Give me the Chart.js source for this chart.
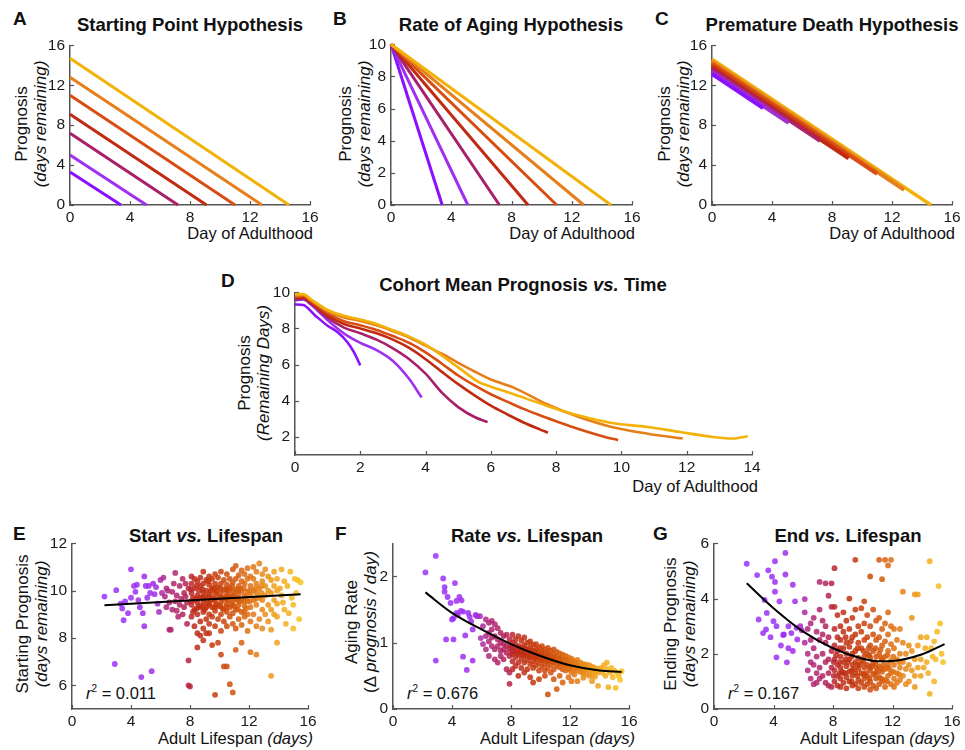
<!DOCTYPE html>
<html><head><meta charset="utf-8">
<script src="https://cdn.jsdelivr.net/npm/chart.js@4.4.1/dist/chart.umd.min.js"></script>
<style>
body{margin:0;background:#fff;width:965px;height:750px;position:relative;overflow:hidden;font-family:'Liberation Sans',Arial,Helvetica,sans-serif;}
canvas{position:absolute;}
.t{position:absolute;white-space:nowrap;color:#111;}
.ttl{font-weight:bold;font-size:18.5px;transform:translate(-50%,-50%);}
.let{font-weight:bold;font-size:19px;transform:translateY(-50%);}
.xt{font-size:16.5px;transform:translate(-100%,-50%);}
.yt{font-size:17px;line-height:19px;text-align:center;transform:translate(-50%,-50%) rotate(-90deg);}
.r2{font-size:16.5px;transform:translateY(-50%);}
</style></head><body>

<div class="t let" style="left:13px;top:19px">A</div>
<div class="t let" style="left:333px;top:19px">B</div>
<div class="t let" style="left:655px;top:19px">C</div>
<div class="t let" style="left:221px;top:281px">D</div>
<div class="t let" style="left:13px;top:534px">E</div>
<div class="t let" style="left:335px;top:534px">F</div>
<div class="t let" style="left:653px;top:534px">G</div>

<div class="t ttl" style="left:190px;top:25px">Starting Point Hypothesis</div>
<div class="t ttl" style="left:511px;top:25px">Rate of Aging Hypothesis</div>
<div class="t ttl" style="left:832px;top:25px">Premature Death Hypothesis</div>
<div class="t ttl" style="left:523px;top:285px">Cohort Mean Prognosis <i>vs.</i> Time</div>
<div class="t ttl" style="left:206px;top:536px">Start <i>vs.</i> Lifespan</div>
<div class="t ttl" style="left:527px;top:536px">Rate <i>vs.</i> Lifespan</div>
<div class="t ttl" style="left:848px;top:536px">End <i>vs.</i> Lifespan</div>

<div class="t xt" style="left:313px;top:233px">Day of Adulthood</div>
<div class="t xt" style="left:635px;top:233px">Day of Adulthood</div>
<div class="t xt" style="left:955px;top:233px">Day of Adulthood</div>
<div class="t xt" style="left:758px;top:486px">Day of Adulthood</div>
<div class="t xt" style="left:313px;top:738px">Adult Lifespan <i>(days)</i></div>
<div class="t xt" style="left:635px;top:738px">Adult Lifespan <i>(days)</i></div>
<div class="t xt" style="left:955px;top:738px">Adult Lifespan <i>(days)</i></div>

<div class="t yt" style="left:31px;top:124px">Prognosis<br><i>(days remaining)</i></div>
<div class="t yt" style="left:355px;top:124px">Prognosis<br><i>(days remaining)</i></div>
<div class="t yt" style="left:674px;top:124px">Prognosis<br><i>(days remaining)</i></div>
<div class="t yt" style="left:254px;top:373px">Prognosis<br><i>(Remaining Days)</i></div>
<div class="t yt" style="left:32px;top:624px">Starting Prognosis<br><i>(days remaining)</i></div>
<div class="t yt" style="left:361px;top:622px">Aging Rate<br>(Δ <i>prognosis / day)</i></div>
<div class="t yt" style="left:680px;top:624px">Ending Prognosis<br><i>(days remaining)</i></div>

<div class="t r2" style="left:86px;top:693px"><i>r</i><sup style="font-size:10px">2</sup> = 0.011</div>
<div class="t r2" style="left:407px;top:693px"><i>r</i><sup style="font-size:10px">2</sup> = 0.676</div>
<div class="t r2" style="left:728px;top:693px"><i>r</i><sup style="font-size:10px">2</sup> = 0.167</div>

<script>
// ---------------- DATA ----------------
// Panels A/B: cohort lifespans (days) and starting prognoses
const lifespansA = [3.4, 5.1, 7.2, 9.1, 11.0, 12.8, 14.6];
const startsA = [3.3, 5.0, 7.2, 9.1, 11.0, 12.8, 14.7];
const lifespansB = [3.4, 5.1, 7.2, 9.1, 11.0, 12.8, 14.6];
const startB = 10;
// Panel C: premature-death lines
const lifespansC = [3.4, 3.4, 5.1, 5.1, 7.2, 7.2, 9.1, 9.1, 11.0, 11.0, 12.8, 12.8, 14.6];
const startsC = [13.1, 13.2, 13.3, 13.45, 13.6, 13.68, 13.75, 13.92, 14.1, 14.2, 14.3, 14.45, 14.6];
// Panel D: cohort mean prognosis curves [day, prognosis]
const cohort2 = [[0,9.33],[0.25,9.3],[0.6,8.75],[1.0,8.15],[1.3,7.8],[1.6,7.25],[1.8,6.7],[2.0,5.96]];
const cohort4 = [[0,9.55],[0.25,9.6],[0.5,9.3],[0.8,8.8],[1.0,8.45],[1.3,8.0],[1.6,7.6],[2.0,7.2],[2.5,6.8],[3.0,6.2],[3.5,5.2],[3.88,4.18]];
const cohort6 = [[0,9.6],[0.25,9.65],[0.5,9.35],[1.0,8.6],[1.5,8.05],[2.0,7.73],[2.5,7.38],[3.0,6.9],[3.5,6.3],[4.0,5.5],[4.5,4.45],[5.0,3.65],[5.5,3.1],[5.9,2.82]];
const cohort8 = [[0,9.7],[0.25,9.72],[0.5,9.42],[1.0,8.72],[1.5,8.25],[2.0,8.0],[2.5,7.73],[3.0,7.38],[3.5,6.92],[4.0,6.3],[4.5,5.6],[5.0,4.92],[5.5,4.3],[6.0,3.73],[6.5,3.25],[7.0,2.8],[7.5,2.42],[7.75,2.24]];
const cohort10 = [[0,9.75],[0.25,9.78],[0.5,9.5],[1.0,8.85],[1.5,8.4],[2.0,8.18],[2.5,7.92],[3.0,7.58],[3.5,7.2],[4.0,6.68],[4.5,6.05],[5.0,5.4],[5.5,4.85],[6.0,4.36],[6.5,3.95],[7.0,3.55],[7.5,3.2],[8.0,2.87],[8.5,2.55],[9.0,2.26],[9.5,2.0],[9.9,1.82]];
const cohort12 = [[0,9.82],[0.25,9.85],[0.5,9.55],[1.0,8.95],[1.5,8.6],[2.0,8.42],[2.5,8.17],[3.0,7.85],[3.5,7.5],[4.0,7.05],[4.5,6.6],[5.0,6.1],[5.5,5.62],[6.0,5.18],[6.7,4.73],[7.7,3.82],[8.7,3.1],[9.7,2.55],[10.8,2.18],[11.88,1.91]];
const cohort14 = [[0,9.9],[0.25,9.9],[0.5,9.6],[1.0,9.02],[1.5,8.7],[2.0,8.5],[2.5,8.25],[3.0,7.9],[3.5,7.55],[4.0,7.1],[4.5,6.5],[5.0,5.85],[5.66,5.0],[6.0,4.78],[6.7,4.36],[7.7,3.73],[8.7,3.18],[9.7,2.77],[10.8,2.55],[11.8,2.27],[12.8,2.0],[13.4,1.91],[13.87,2.04]];
// Panels E/F/G: individual worms, columns of [lifespan, [values...]]
const startE = [
[2.2,[9.75]],[2.9,[6.9]],[3.0,[10.02]],[3.3,[9.45]],[3.4,[9.25]],[3.5,[8.75]],[3.6,[9.55]],[3.8,[9.05]],[4.0,[9.7,10.9]],[4.2,[10.2]],[4.3,[9.95]],[4.4,[10.25]],[4.5,[9.6]],[4.6,[9.3]],[4.7,[6.35]],[4.8,[9.05]],[4.9,[10.6,8.5]],[5.0,[10.2]],[5.1,[9.7]],[5.2,[10.2]],[5.3,[9.9]],[5.4,[6.6]],[5.5,[10.3]],[5.6,[9.85]],[5.7,[10.15]],[5.8,[9.45]],[5.9,[9.1]],[6.0,[10.45]],
[6.1,[9.9]],[6.2,[10.55]],[6.3,[9.75]],[6.4,[9.3,10.1]],[6.5,[10.0]],[6.6,[8.35,9.5]],[6.7,[8.35]],[6.8,[9.95,9.2]],[6.9,[10.3]],[7.0,[9.55,10.75]],[7.1,[9.15,9.8]],[7.2,[8.9]],[7.3,[10.2,9.4]],[7.4,[9.65]],[7.5,[10.5,9.0]],[7.6,[9.3,9.9]],[7.7,[9.75,10.3]],[7.8,[8.6,9.5]],[7.9,[7.05,6.0,10.1]],[8.0,[5.95]],
[8.1,[8.9,9.4,9.9,10.3,10.6]],[8.2,[9.7,9.1]],[8.3,[8.5,9.2,9.6,10.1,10.5]],[8.5,[8.2,9.0,9.5,9.8,10.4,7.6]],[8.6,[9.35,10.0]],[8.7,[8.7,9.3,9.7,10.2,10.55,8.1]],[8.9,[8.4,9.1,9.5,9.9,10.3,10.8,7.9]],[9.0,[9.75,9.2]],[9.1,[8.8,9.3,9.6,10.0,10.45,8.2]],[9.3,[8.6,9.0,9.45,9.85,10.25,10.6,8.2]],[9.4,[9.6,10.0]],[9.5,[8.9,9.3,9.7,10.1,10.5,7.7]],[9.7,[8.5,9.15,9.55,9.9,10.3,10.7,5.6]],[9.8,[9.4,9.95]],[9.9,[8.8,9.35,9.75,10.15,10.55,7.8]],[10.1,[8.3,9.0,9.5,9.9,10.3,10.8,7.3]],[10.2,[9.7,9.25]],[10.3,[8.7,9.2,9.65,10.05,10.45,6.8]],[10.5,[8.5,9.1,9.45,9.85,10.25,10.7,6.8]],[10.6,[9.6,10.0]],[10.7,[8.9,9.3,9.75,10.1,10.5,6.05]],[10.9,[8.6,9.05,9.55,9.95,10.35,10.9,5.7]],[11.0,[9.35,9.8]],[11.1,[8.4,9.2,9.65,10.05,10.5,11.05,7.5]],[11.3,[8.8,9.4,9.85,10.2,10.65]],[11.4,[9.55,10.1]],[11.5,[8.55,9.1,9.6,10.0,10.4,10.85,7.8]],[11.7,[8.9,9.35,9.8,10.3,10.7]],[11.8,[9.25,9.7]],[11.9,[8.3,9.0,9.55,9.95,10.5,10.95]],
[8.05,[9.55,10.05]],[8.45,[9.65,9.25,10.2]],[8.85,[9.7,9.35,10.05]],[9.25,[9.75,9.4,10.4]],[9.65,[9.65,10.1,9.3]],[10.05,[9.7,9.35,10.1]],[10.45,[9.7,9.3,10.05]],[10.85,[9.75,9.4,10.2]],[11.25,[9.6,10.0,9.2]],[11.65,[9.55,10.1,9.1]],[12.05,[9.55,10.0]],[12.45,[9.65,10.1]],[12.85,[9.9,10.2]],
[12.1,[8.7,9.3,9.8,10.2,10.6,7.4]],[12.3,[9.0,9.6,10.0,10.5,11.0]],[12.5,[8.5,9.4,9.9,10.3,10.8,7.3]],[12.7,[8.8,9.7,10.1,11.15]],[12.9,[8.4,9.2,9.6,10.4,10.7]],[13.1,[9.0,9.8,10.2,10.9]],[13.3,[8.7,9.4,10.0,10.6]],[13.5,[8.35,9.2,9.9,10.45,6.4]],[13.7,[9.0,9.6,10.2,10.8]],[13.9,[8.9,9.45,10.0,10.5,7.8]],
[14.1,[10.1]],[14.2,[10.9,9.8]],[14.3,[9.5]],[14.4,[9.2,10.4]],[14.5,[8.6]],[14.6,[10.2]],[14.7,[9.05]],[14.8,[10.8]],[14.9,[9.7]],[15.0,[8.4,9.4]],[15.1,[10.5]],[15.2,[9.9]],[15.3,[10.45]],[15.4,[8.8]],[15.5,[10.35]]
];
const rateF = [
[2.2,[2.06]],[2.9,[2.31,0.73]],[3.4,[1.97]],[3.5,[1.84,1.77]],[3.6,[1.05]],[3.7,[1.69]],[3.9,[1.6]],[4.0,[1.35]],[4.1,[1.05,1.37]],[4.2,[1.9]],[4.3,[1.63,1.45]],[4.4,[1.42]],[4.5,[1.69]],[4.6,[1.48]],[4.65,[1.64]],[4.75,[1.47,0.79]],[4.9,[1.11]],[5.0,[0.59]],[5.1,[1.45]],[5.2,[1.39]],[5.3,[1.32]],[5.4,[1.2,0.73]],[5.6,[1.42]],[5.7,[1.4]],[5.9,[1.4]],[5.95,[1.07]],
[6.1,[0.98,1.25]],[6.3,[1.35,1.1,0.9]],[6.5,[1.3,1.15,0.8,1.02]],[6.7,[1.33,1.2,0.95,1.08]],[6.9,[1.28,1.1,0.75,0.9]],[7.1,[1.22,1.05,0.95,0.7]],[7.3,[1.15,1.0,0.88,0.8]],[7.5,[1.1,0.98,0.75,0.9]],[7.7,[1.12,0.95,0.85,0.6]],[7.9,[1.05,0.92,0.8,0.55,0.38]],
[8.1,[1.12,1.0,0.92,0.83,0.72,0.6]],[8.2,[0.86]],[8.3,[1.05,0.97,0.88,0.78,0.65]],[8.5,[1.1,0.95,0.9,0.82,0.7,0.5]],[8.6,[0.87]],[8.7,[1.03,0.93,0.85,0.76,0.62]],[8.9,[1.08,0.96,0.87,0.8,0.7,0.55]],[9.0,[0.9]],[9.1,[1.0,0.9,0.83,0.74,0.6]],[9.3,[1.02,0.93,0.85,0.78,0.68,0.48]],[9.4,[0.82]],[9.5,[0.97,0.88,0.8,0.72,0.62,0.4]],[9.7,[0.98,0.9,0.82,0.75,0.66]],[9.8,[0.79]],[9.9,[0.93,0.85,0.78,0.7,0.58,0.45]],[10.1,[0.95,0.87,0.8,0.73,0.64]],[10.2,[0.77]],[10.3,[0.9,0.83,0.76,0.68,0.58,0.5]],[10.5,[0.92,0.85,0.78,0.71,0.62,0.22]],[10.6,[0.74]],[10.7,[0.88,0.8,0.74,0.67,0.55]],[10.9,[0.9,0.82,0.76,0.7,0.6,0.45]],[11.0,[0.73]],[11.1,[0.86,0.79,0.72,0.65,0.3]],[11.3,[0.84,0.77,0.71,0.63,0.5]],[11.4,[0.7]],[11.5,[0.82,0.75,0.69,0.6,0.4]],[11.7,[0.8,0.74,0.67,0.58]],[11.8,[0.69]],[11.9,[0.78,0.72,0.66,0.6,0.48]],
[8.05,[0.95,0.88]],[8.45,[0.92,0.84]],[8.85,[0.9,0.82]],[9.25,[0.88,0.8]],[9.65,[0.86,0.78]],[10.05,[0.83,0.75]],[10.45,[0.8,0.73]],[10.85,[0.78,0.71]],[11.25,[0.76,0.69]],[11.65,[0.74,0.66]],[12.05,[0.72,0.62]],[12.45,[0.69,0.62]],[12.85,[0.65,0.58]],
[12.1,[0.76,0.7,0.64,0.56,0.42]],[12.3,[0.73,0.67,0.6,0.52]],[12.5,[0.74,0.66,0.58,0.42]],[12.7,[0.7,0.63,0.56]],[12.9,[0.68,0.62,0.54,0.47]],[13.1,[0.67,0.6,0.53]],[13.3,[0.66,0.58,0.5]],[13.5,[0.64,0.57,0.5,0.42]],[13.7,[0.62,0.56,0.49]],[13.9,[0.6,0.55,0.35]],
[14.1,[0.62]],[14.2,[0.55]],[14.3,[0.66]],[14.4,[0.5]],[14.5,[0.6,0.7]],[14.6,[0.33]],[14.7,[0.55]],[14.8,[0.62]],[14.9,[0.48]],[15.0,[0.58]],[15.1,[0.32]],[15.2,[0.55]],[15.3,[0.5]],[15.4,[0.44]],[15.5,[0.57]]
];
const endG = [
[2.2,[5.26]],[2.9,[4.85]],[3.0,[3.24]],[3.3,[2.75]],[3.4,[3.95]],[3.5,[2.88]],[3.55,[3.48]],[3.65,[5.02]],[3.8,[2.6]],[3.9,[4.79]],[4.0,[3.18]],[4.1,[5.35,4.6,4.25]],[4.2,[3.0,1.87]],[4.4,[3.9]],[4.5,[2.3]],[4.65,[2.68]],[4.7,[2.7]],[4.8,[5.65,4.87]],[4.9,[1.69]],[5.0,[3.0,2.2]],[5.2,[2.75]],[5.3,[4.5,2.1]],[5.45,[3.9]],[5.55,[2.94]],[5.6,[2.52]],[5.8,[3.0]],[5.9,[2.85]],
[6.1,[3.98,3.5,2.4]],[6.3,[2.9,2.0,1.4]],[6.5,[3.1,2.5,1.7,1.1]],[6.7,[3.3,2.2,1.6,0.9]],[6.9,[2.8,1.9,1.3,0.95]],[7.1,[4.6,3.6,2.5,1.5,1.1]],[7.3,[3.2,2.7,2.0,1.2]],[7.5,[4.55,3.0,2.4,1.7,0.95]],[7.7,[4.1,2.6,1.8,1.3,0.85]],[7.9,[4.55,3.7,2.1,1.5,0.8]],
[8.1,[5.1,3.7,2.9,2.3,1.8,1.4,1.0]],[8.2,[1.95]],[8.3,[3.4,2.6,2.1,1.6,1.2,0.85]],[8.5,[3.0,2.5,1.9,1.5,1.1,0.8]],[8.6,[1.35]],[8.7,[3.5,2.8,2.2,1.7,1.3,0.95]],[8.9,[3.2,2.4,2.0,1.55,1.15,0.75]],[9.0,[1.7]],[9.1,[4.0,2.9,2.25,1.8,1.35,1.0]],[9.2,[2.45]],[9.3,[3.3,2.6,2.0,1.6,1.2,0.85]],[9.4,[1.45]],[9.5,[5.4,3.6,2.7,2.1,1.7,1.3,0.9]],[9.7,[3.0,2.4,1.85,1.45,1.05,0.75]],[9.8,[1.6]],[9.9,[3.65,2.8,2.2,1.75,1.3,0.95]],[10.1,[3.9,3.1,2.5,1.9,1.5,1.1,0.8]],[10.2,[1.3]],[10.3,[3.4,2.6,2.0,1.6,1.2,0.9]],[10.4,[2.2]],[10.5,[4.8,3.0,2.3,1.85,1.4,1.0,0.7]],[10.6,[1.55]],[10.7,[3.6,2.7,2.1,1.65,1.25,0.85]],[10.9,[3.2,2.5,1.9,1.5,1.1,0.75]],[11.0,[1.35]],[11.1,[5.4,3.3,2.6,2.0,1.55,1.15,0.9]],[11.2,[2.15]],[11.3,[4.7,2.9,2.3,1.8,1.35,1.0]],[11.4,[1.6]],[11.5,[5.4,3.1,2.45,1.9,1.45,1.05,0.8]],[11.7,[5.2,3.5,2.7,2.1,1.6,1.2]],[11.8,[1.45]],[11.9,[5.4,3.0,2.35,1.75,1.3,0.9]],
[8.05,[1.7,1.2]],[8.45,[2.2,1.3,1.7]],[8.85,[1.8,1.3,2.6]],[9.25,[1.9,1.4,1.0]],[9.65,[2.2,1.6,1.2]],[10.05,[2.1,1.7,1.25]],[10.45,[1.95,1.5,1.1]],[10.85,[2.2,1.7,1.3]],[11.25,[1.85,1.45,1.1]],[11.65,[1.95,1.5,1.0]],[12.05,[1.9,1.35]],[12.45,[1.7,1.25]],
[12.1,[2.9,2.2,1.6,1.1,0.8]],[12.3,[2.5,1.8,1.3,0.95]],[12.5,[2.9,2.0,1.5,1.05]],[12.7,[4.25,2.4,1.7,1.2]],[12.9,[2.0,1.45,0.9]],[13.1,[2.3,1.6,1.0]],[13.3,[3.3,2.1,1.4]],[13.5,[4.15,1.8,1.2,0.8]],[13.7,[4.15,2.3,1.5]],[13.9,[1.8,1.2,2.6]],
[14.1,[1.5]],[14.2,[2.2]],[14.3,[2.6,1.7]],[14.4,[1.3]],[14.5,[5.35,0.55]],[14.6,[2.2]],[14.7,[1.9]],[14.8,[1.0,2.45]],[14.9,[1.8]],[15.0,[2.8]],[15.1,[4.45]],[15.2,[3.1]],[15.3,[2.0]],[15.4,[1.7]]
];
// fitted regression curves [lifespan, value]
const fitE = [[2.2,9.38],[15.5,9.85]];
const fitF = [[2.2,1.76],[4,1.45],[6,1.2],[8,0.98],[10,0.8],[12,0.66],[14,0.58],[15.5,0.56]];
const fitG = [[2.2,4.55],[4,3.65],[6,2.8],[8,2.2],[10,1.82],[11,1.73],[12,1.74],[14,1.98],[15.5,2.35]];
// tick labels
const ticks16 = [0,4,8,12,16];
const ticksB = [0,2,4,6,8,10];
const ticksDx = [0,2,4,6,8,10,12,14];
const ticksDy = [2,4,6,8,10];
const ticksE = [6,8,10,12];
const ticksF = [0,1,2];
const ticksG = [0,2,4,6];

// ---------------- STYLE ----------------
const FONT = "'Liberation Sans', Arial, Helvetica, sans-serif";
Chart.defaults.font.family = FONT;
const cohortColors = ['#8B10FF','#A030F0','#A8206A','#C02A10','#D84E12','#E67E1A','#F2B20A'];
const cColors = ['#8B10FF','#9420F0','#A030D0','#A82890','#AE2268','#B82040','#C02A10','#CC3C10','#D84E12','#E06616','#E67E1A','#EC981A','#F2B20A'];
const CMAP = [[2,[150,50,255]],[5.6,[160,45,235]],[6.3,[175,40,130]],[7.8,[180,35,85]],[8.2,[188,42,30]],[9.5,[196,55,12]],[11,[210,85,12]],[12.5,[228,125,22]],[14,[240,165,28]],[15.5,[248,196,32]]];
function cmap(v){
  if(v<=CMAP[0][0]) return CMAP[0][1];
  for(let i=1;i<CMAP.length;i++){
    if(v<=CMAP[i][0]){
      const [a,ca]=CMAP[i-1],[b,cb]=CMAP[i];const f=(v-a)/(b-a);
      return ca.map((c,k)=>Math.round(c+(cb[k]-c)*f));
    }
  }
  return CMAP[CMAP.length-1][1];
}
const rgba=(c,a)=>`rgba(${c[0]},${c[1]},${c[2]},${a})`;

const RECTS = {A:{l:70,t:43,r:310,b:205},B:{l:391,t:42,r:632,b:205},C:{l:712,t:43,r:952,b:205},
  D:{l:295,t:290,r:752,b:455},E:{l:72,t:541,r:308,b:709},F:{l:393,t:541,r:629,b:709},G:{l:714,t:541,r:952,b:709}};
const PAD_L=50,PAD_T=12,PAD_R=16,PAD_B=28;
const AXIS_COLOR='#555';

const innerTicks = {
  id:'innerTicks',
  beforeDatasetsDraw(chart){
    const ctx=chart.ctx, ca=chart.chartArea, xs=chart.scales.x, ys=chart.scales.y;
    ctx.save(); ctx.strokeStyle=AXIS_COLOR; ctx.lineWidth=1.2;
    xs.ticks.forEach(t=>{const p=Math.round(xs.getPixelForValue(t.value))+0.5;ctx.beginPath();ctx.moveTo(p,ca.bottom);ctx.lineTo(p,ca.bottom-4);ctx.stroke();});
    ys.ticks.forEach(t=>{const p=Math.round(ys.getPixelForValue(t.value))+0.5;ctx.beginPath();ctx.moveTo(ca.left,p);ctx.lineTo(ca.left+4,p);ctx.stroke();});
    ctx.restore();
  }
};

function axis(min,max,tickVals,isX,pad){
  return {type:'linear',min,max,
    afterBuildTicks:s=>{s.ticks=tickVals.map(v=>({value:v}));},
    afterFit:s=>{ if(isX) s.height=PAD_B; else s.width=PAD_L; },
    grid:{display:true,drawOnChartArea:false,drawTicks:false},
    border:{display:true,color:AXIS_COLOR,width:1.5},
    ticks:{color:'#1a1a1a',font:{size:15.5,family:FONT},padding:pad,maxRotation:0,autoSkip:false}
  };
}

function makeChart(rect,datasets,xr,yr,xt,yt,type){
  const c=document.createElement('canvas');
  const left=rect.l-PAD_L, top=rect.t-PAD_T;
  const w=rect.r-rect.l+PAD_L+PAD_R, h=rect.b-rect.t+PAD_T+PAD_B;
  c.width=w;c.height=h;c.style.left=left+'px';c.style.top=top+'px';c.style.width=w+'px';c.style.height=h+'px';
  document.body.appendChild(c);
  return new Chart(c.getContext('2d'),{
    type:type||'line',
    data:{datasets},
    options:{responsive:false,animation:false,devicePixelRatio:1,
      layout:{padding:{left:0,top:PAD_T,right:PAD_R,bottom:0}},
      plugins:{legend:{display:false},tooltip:{enabled:false},title:{display:false}},
      scales:{x:axis(xr[0],xr[1],xt,true,3),y:axis(yr[0],yr[1],yt,false,5)}
    },
    plugins:[innerTicks]
  });
}
const lineDS=(pts,color,w)=>({data:pts.map(([x,y])=>({x,y})),borderColor:color,borderWidth:w,pointRadius:0,fill:false,clip:false,cubicInterpolationMode:'monotone'});

// A
makeChart(RECTS.A, lifespansA.map((L,i)=>lineDS([[0,startsA[i]],[L,0]],cohortColors[i],3)).reverse(),[0,16],[0,16],ticks16,ticks16);
// B
makeChart(RECTS.B, lifespansB.map((L,i)=>lineDS([[0,startB],[L,0]],cohortColors[i],3)).reverse(),[0,16],[0,10],ticks16,ticksB);
// C
makeChart(RECTS.C, lifespansC.map((L,i)=>lineDS([[0,startsC[i]],[L,startsC[i]-L]],cColors[i],3.5)),[0,16],[0,16],ticks16,ticks16);
// D
const cohorts=[cohort2,cohort4,cohort6,cohort8,cohort10,cohort12,cohort14];
makeChart(RECTS.D, cohorts.map((d,i)=>lineDS(d,cohortColors[i],2.6)).reverse(),[0,14],[1,10],ticksDx,ticksDy);
// E/F/G
function scatterDS(cols){
  const pts=cols.flatMap(([x,ys])=>ys.map(y=>({x,y})));
  return {type:'scatter',data:pts,pointRadius:2.9,pointBorderWidth:0,pointBackgroundColor:pts.map(p=>rgba(cmap(p.x),0.85)),showLine:false,clip:false};
}
makeChart(RECTS.E,[lineDS(fitE,'#000',2),scatterDS(startE)],[0,16],[5,12],ticks16,ticksE);
makeChart(RECTS.F,[lineDS(fitF,'#000',2),scatterDS(rateF)],[0,16],[0,2.5],ticks16,ticksF);
makeChart(RECTS.G,[lineDS(fitG,'#000',2),scatterDS(endG)],[0,16],[0,6],ticks16,ticksG);
</script>
</body></html>
